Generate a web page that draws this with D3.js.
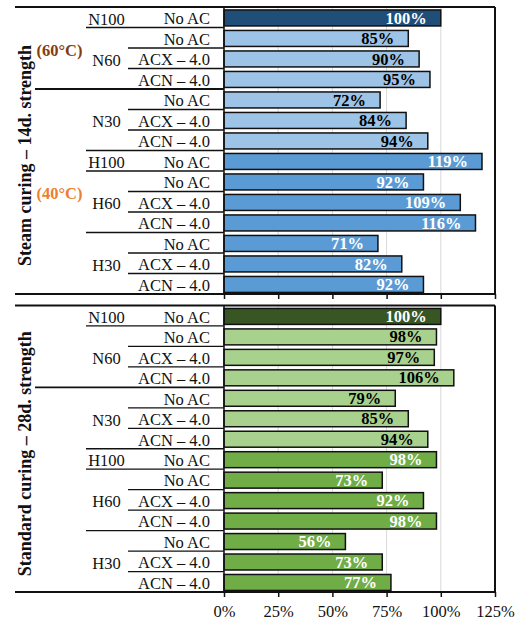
<!DOCTYPE html>
<html>
<head>
<meta charset="utf-8">
<script src="https://cdn.jsdelivr.net/npm/d3@7"></script>
<style>
  html, body { margin: 0; padding: 0; background: #fff; }
  svg { display: block; font-family: "Liberation Serif", "Times New Roman", serif; }
</style>
</head>
<body>
<svg id="chart" width="516" height="621"></svg>
<script>
// Mix designs, one row per bar (top to bottom)
const mixes = ["N100", "N60", "N60", "N60", "N30", "N30", "N30",
               "H100", "H60", "H60", "H60", "H30", "H30", "H30"];
const additives = ["No AC", "No AC", "ACX – 4.0", "ACN – 4.0",
                   "No AC", "ACX – 4.0", "ACN – 4.0",
                   "No AC", "No AC", "ACX – 4.0", "ACN – 4.0",
                   "No AC", "ACX – 4.0", "ACN – 4.0"];
// Steam-curing temperature of each row
const curingTemps = ["(60°C)", "(60°C)", "(60°C)", "(60°C)",
                     "(40°C)", "(40°C)", "(40°C)", "(40°C)", "(40°C)",
                     "(40°C)", "(40°C)", "(40°C)", "(40°C)", "(40°C)"];
// Relative strength, % of reference mix
const steamValues    = [100, 85, 90, 95, 72, 84, 94, 119, 92, 109, 116, 71, 82, 92];
const standardValues = [100, 98, 97, 106, 79, 85, 94, 98, 73, 92, 98, 56, 73, 77];
const tickValues = [0, 25, 50, 75, 100, 125];
const panelTitles = ["Steam curing – 14d. strength", "Standard curing – 28d. strength"];

const palettes = [
  { ref: "#1f4e79", normal: "#9dc3e6", high: "#5b9bd5" },
  { ref: "#375623", normal: "#a9d18e", high: "#70ad47" }
];
const tempColors = { "(60°C)": "#843c0c", "(40°C)": "#ed7d31" };

const svg = d3.select("#chart");
const FONT = 16.5;

// Layout
const xLeft = 15, xTemp = 35, xMix = 86, xAdd = 128, xPlot = 224, xRight = 495;
const panels = [
  { y0: 7, y1: 294, values: steamValues, palette: palettes[0], showTemps: true, showTickLabels: false },
  { y0: 305.5, y1: 592, values: standardValues, palette: palettes[1], showTemps: false, showTickLabels: true }
];

const x = d3.scaleLinear().domain([0, 125]).range([xPlot, xRight]);
const rows = d3.range(mixes.length);

function barColor(i, pal) {
  const m = mixes[i];
  if (m === "N100") return pal.ref;
  if (m.startsWith("N")) return pal.normal;
  return pal.high;
}
function labelColor(i) {
  const m = mixes[i];
  return (m.startsWith("N") && m !== "N100") ? "#000" : "#fff";
}

// Consecutive runs of equal values -> [start, end] row spans
function spans(arr) {
  const out = [];
  let s = 0;
  for (let i = 1; i <= arr.length; i++) {
    if (i === arr.length || arr[i] !== arr[s]) { out.push({ key: arr[s], start: s, end: i - 1 }); s = i; }
  }
  return out;
}

panels.forEach((p, pi) => {
  const g = svg.append("g");
  const rowY = d3.scaleBand().domain(rows).range([p.y0, p.y1]);
  const barY = d3.scaleBand().domain(rows).range([p.y0, p.y1]).paddingInner(0.22).paddingOuter(0.11);
  const step = rowY.step();
  const rowCenter = i => rowY(i) + step / 2;

  // Gridlines
  g.append("g").selectAll("line").data(tickValues.slice(1, -1)).join("line")
    .attr("x1", d => x(d)).attr("x2", d => x(d))
    .attr("y1", p.y0).attr("y2", p.y1)
    .attr("stroke", "#d9d9d9").attr("stroke-width", 1);

  // Bars
  g.append("g").selectAll("rect").data(rows).join("rect")
    .attr("x", x(0))
    .attr("y", i => barY(i) + 0.7)
    .attr("width", i => x(p.values[i]) - x(0))
    .attr("height", barY.bandwidth())
    .attr("fill", i => barColor(i, p.palette))
    .attr("stroke", "#111").attr("stroke-width", 1.5);

  // Value labels
  g.append("g").selectAll("text").data(rows).join("text")
    .attr("x", i => x(p.values[i]) - 14)
    .attr("y", i => barY(i) + 0.7 + barY.bandwidth() / 2 + 5.6)
    .attr("text-anchor", "end")
    .attr("font-weight", "bold").attr("font-size", FONT)
    .attr("fill", i => labelColor(i))
    .text(i => p.values[i] + "%");

  // Table separators between rows
  const mixSpans = spans(mixes);
  const tempSpans = spans(curingTemps);
  const tempBreaks = new Set(tempSpans.map(s => s.start));
  const mixBreaks = new Set(mixSpans.map(s => s.start));
  const seps = d3.range(1, mixes.length).map(k => ({
    k, x0: tempBreaks.has(k) ? xTemp : (mixBreaks.has(k) ? xMix : xAdd)
  }));
  g.append("g").selectAll("line").data(seps).join("line")
    .attr("x1", d => d.x0).attr("x2", xPlot)
    .attr("y1", d => rowY(d.k)).attr("y2", d => rowY(d.k))
    .attr("stroke", "#111").attr("stroke-width", d => d.x0 === xTemp ? 1.8 : 1.3);

  // Additive labels
  g.append("g").selectAll("text").data(rows).join("text")
    .attr("x", 210).attr("y", i => rowCenter(i) + 7)
    .attr("text-anchor", "end").attr("font-size", FONT).attr("fill", "#111")
    .text(i => additives[i]);

  // Mix labels
  g.append("g").selectAll("text").data(mixSpans).join("text")
    .attr("x", 106.5)
    .attr("y", s => (rowY(s.start) + rowY(s.end) + step) / 2 + 7.5)
    .attr("text-anchor", "middle").attr("font-size", FONT).attr("fill", "#111")
    .text(s => s.key);

  // Temperature labels
  if (p.showTemps) {
    g.append("g").selectAll("text").data(tempSpans).join("text")
      .attr("x", 59.5)
      .attr("y", s => (rowY(s.start) + rowY(s.end) + step) / 2 + 7.5)
      .attr("text-anchor", "middle").attr("font-size", FONT).attr("font-weight", "bold")
      .attr("fill", s => tempColors[s.key])
      .text(s => s.key);
  }

  // Panel title (vertical)
  const cy = (p.y0 + p.y1) / 2 + 5;
  g.append("text")
    .attr("transform", `translate(31,${cy}) rotate(-90)`)
    .attr("text-anchor", "middle").attr("font-size", 18).attr("font-weight", "bold").attr("fill", "#111")
    .text(panelTitles[pi]);

  // Frame: top/bottom rules across the table, right border, value axis line
  g.append("line").attr("x1", xLeft).attr("x2", xRight).attr("y1", p.y0).attr("y2", p.y0)
    .attr("stroke", "#111").attr("stroke-width", 2);
  g.append("line").attr("x1", xLeft).attr("x2", xRight).attr("y1", p.y1).attr("y2", p.y1)
    .attr("stroke", "#111").attr("stroke-width", 2);
  g.append("line").attr("x1", xRight).attr("x2", xRight).attr("y1", p.y0).attr("y2", p.y1)
    .attr("stroke", "#111").attr("stroke-width", 2);
  g.append("line").attr("x1", xPlot).attr("x2", xPlot).attr("y1", p.y0).attr("y2", p.y1)
    .attr("stroke", "#111").attr("stroke-width", 1.5);

  // Bottom axis ticks
  const axis = d3.axisBottom(x).tickValues(tickValues).tickSize(5).tickSizeOuter(0)
    .tickFormat(p.showTickLabels ? (d => d + "%") : () => "");
  const ax = g.append("g").attr("transform", `translate(0,${p.y1})`).call(axis);
  ax.select(".domain").remove();
  ax.selectAll(".tick line").attr("stroke", "#111").attr("stroke-width", 1.5);
  ax.selectAll(".tick text")
    .attr("font-family", "'Liberation Serif', 'Times New Roman', serif")
    .attr("font-size", FONT).attr("fill", "#111").attr("dy", null).attr("y", 25);
});
</script>
</body>
</html>
